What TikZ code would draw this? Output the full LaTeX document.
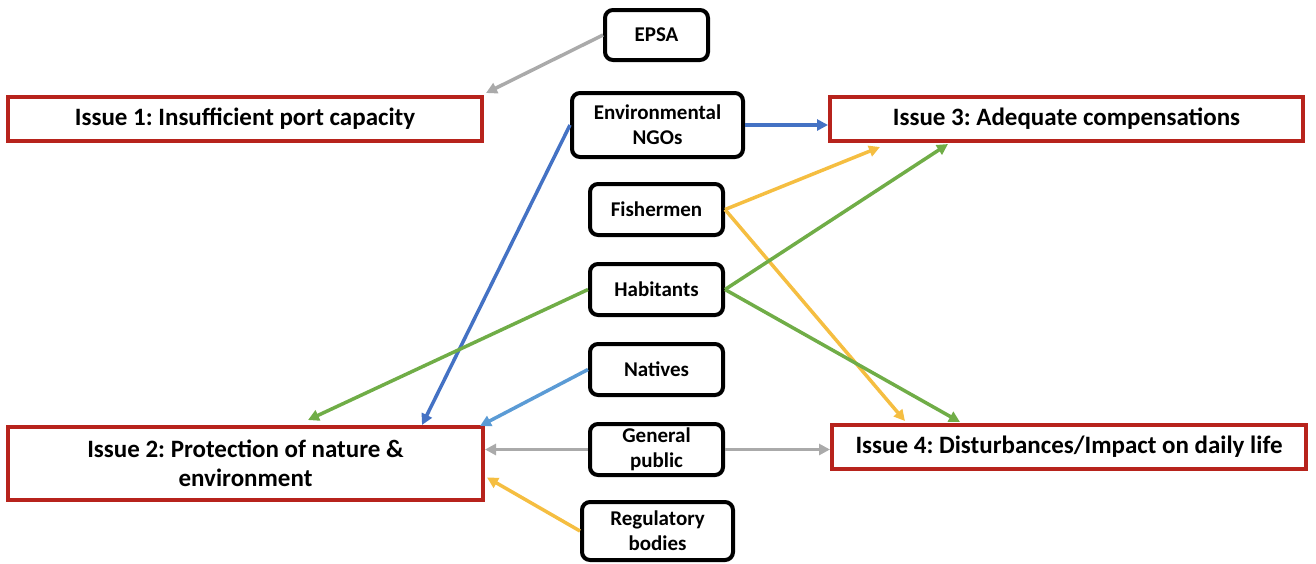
\documentclass[tikz,border=0pt]{standalone}
\usepackage{fontspec}
\setmainfont{Carlito}
\frenchspacing
\usetikzlibrary{arrows.meta}
\definecolor{issuered}{RGB}{183,35,28}
\definecolor{cgray}{RGB}{170,170,170}
\definecolor{cblue}{RGB}{68,114,196}
\definecolor{clblue}{RGB}{91,155,213}
\definecolor{cyellow}{RGB}{245,190,65}
\definecolor{cgreen}{RGB}{112,173,71}
\begin{document}
\begin{tikzpicture}[x=1pt,y=1pt,
  issue/.style={draw=issuered,line width=4pt,fill=white,inner sep=0pt,align=center,
    font=\fontsize{25}{29}\selectfont\bfseries},
  actor/.style={draw=black,line width=4pt,rounded corners=8pt,fill=white,inner sep=0pt,align=center,
    font=\fontsize{21}{25}\selectfont\bfseries},
  link/.style={line width=3.5pt,-{Triangle[length=11pt,width=11pt]}}]
\useasboundingbox (0,0) rectangle (1316,-563);

% issues
\node[issue,minimum width=474pt,minimum height=44pt] (iss1) at (245,-119) {Issue 1: Insufficient port capacity};
\node[issue,minimum width=473pt,minimum height=44pt] (iss3) at (1066.5,-119) {Issue 3: Adequate compensations};
\node[issue,minimum width=475pt,minimum height=73pt] (iss2) at (245.5,-463.5) {Issue 2: Protection of nature \&\\environment};
\node[issue,minimum width=474pt,minimum height=44pt] (iss4) at (1069,-447) {Issue 4: Disturbances/Impact on daily life};

% stakeholders
\node[actor,minimum width=103pt,minimum height=50pt] (epsa) at (656.5,-35) {EPSA};
\node[actor,minimum width=171pt,minimum height=64pt] (ngo) at (657.5,-125) {Environmental\\NGOs};
\node[actor,minimum width=133pt,minimum height=51pt] (fish) at (656.5,-209.5) {Fishermen};
\node[actor,minimum width=133pt,minimum height=51pt] (hab) at (656.5,-289.5) {Habitants};
\node[actor,minimum width=133pt,minimum height=51pt] (nat) at (656.5,-369.5) {Natives};
\node[actor,minimum width=133pt,minimum height=51pt] (gp) at (656.5,-449.5) {General\\public};
\node[actor,minimum width=151pt,minimum height=58pt] (reg) at (657.5,-531) {Regulatory\\bodies};

% connectors
\draw[link,cgray] (epsa.west) -- ([xshift=2pt,yshift=2pt]iss1.north east);
\draw[link,cblue] (ngo.east) -- (ngo.east -| iss3.west);
\draw[link,cblue] (ngo.west) -- ([xshift=-63pt]iss2.north east);
\draw[link,cyellow] (fish.east) -- ([xshift=52pt,yshift=-4pt]iss3.south west);
\draw[link,cyellow] (fish.east) -- ([xshift=75pt,yshift=2pt]iss4.north west);
\draw[link,cgreen] (hab.east) -- ([xshift=120pt,yshift=-1pt]iss3.south west);
\draw[link,cgreen] (hab.east) -- ([xshift=130pt,yshift=1pt]iss4.north west);
\draw[link,cgreen] (hab.west) -- ([xshift=302pt,yshift=5pt]iss2.north west);
\draw[link,clblue] (nat.west) -- ([xshift=-5pt,yshift=-1pt]iss2.north east);
\draw[link,cgray] (gp.west) -- (gp.west -| iss2.east);
\draw[link,cgray] (gp.east) -- (gp.east -| iss4.west);
\draw[link,cyellow] (reg.west) -- ([xshift=2pt,yshift=-14pt]iss2.east);
\end{tikzpicture}
\end{document}
